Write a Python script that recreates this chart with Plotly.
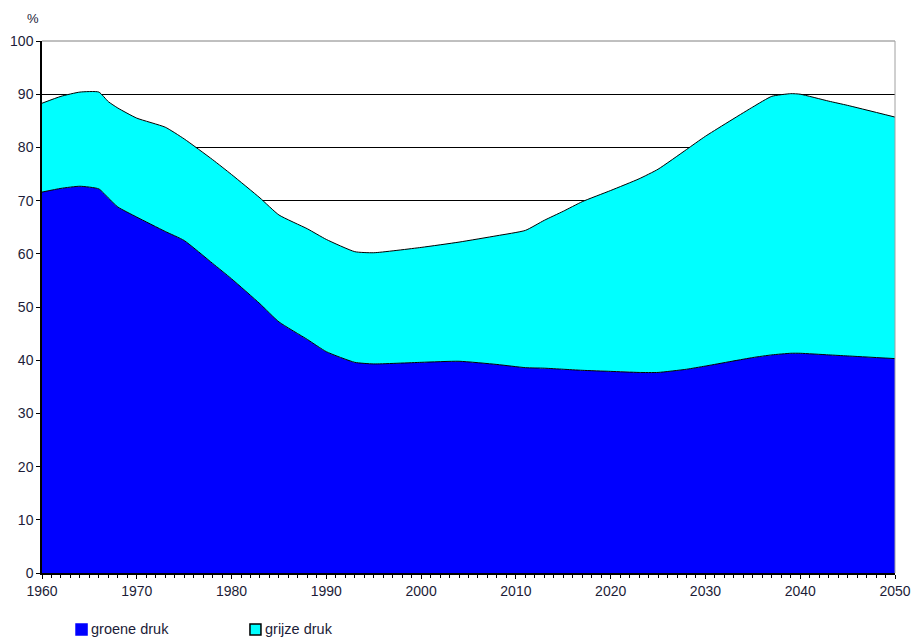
import plotly.graph_objects as go

years = [1960, 1962, 1964, 1966, 1967, 1968, 1970, 1973, 1975, 1978, 1980, 1983, 1985, 1988,
         1990, 1993, 1995, 2000, 2004, 2008, 2011, 2013, 2015, 2017, 2020, 2023, 2025, 2028,
         2030, 2035, 2037, 2039, 2040, 2043, 2045, 2050]
groene_druk = [71.6, 72.3, 72.7, 72.2, 70.5, 68.8, 66.9, 64.2, 62.5, 58.2, 55.3, 50.6, 47.2, 43.9,
               41.6, 39.6, 39.3, 39.6, 39.8, 39.2, 38.6, 38.5, 38.3, 38.1, 37.9, 37.7, 37.7, 38.3,
               38.9, 40.5, 41.0, 41.3, 41.3, 41.0, 40.8, 40.3]
totale_druk = [88.3, 89.6, 90.4, 90.4, 88.6, 87.4, 85.5, 83.8, 81.6, 77.7, 74.9, 70.5, 67.3, 64.7,
               62.7, 60.4, 60.2, 61.2, 62.2, 63.4, 64.4, 66.3, 68.0, 69.8, 71.9, 74.1, 75.9, 79.6,
               82.1, 87.6, 89.6, 90.1, 90.0, 88.7, 87.9, 85.7]
grijze_druk = [round(t - g, 2) for t, g in zip(totale_druk, groene_druk)]

series_names = ["groene druk", "grijze druk"]
series_colors = ["#0000ff", "#00ffff"]

y_ticks = list(range(0, 101, 10))
x_ticks = list(range(1960, 2051, 10))

font_family = "Liberation Sans, Arial, sans-serif"
text_color = "#1c1c38"

fig = go.Figure()
for vals, name, col in zip([groene_druk, grijze_druk], series_names, series_colors):
    fig.add_trace(go.Scatter(
        x=years, y=vals, name=name, stackgroup="one", showlegend=False,
        mode="lines", line=dict(color="black", width=1, shape="spline", smoothing=0.5),
        fillcolor=col,
    ))

# legend drawn as squares + text below the plot
legend_x = [0.0399, 0.2438]
shapes = [
    dict(type="line", xref="paper", yref="paper", x0=0, x1=1, y0=1, y1=1,
         line=dict(color="#808080", width=1)),
    dict(type="line", xref="paper", yref="paper", x0=1, x1=1, y0=0, y1=1,
         line=dict(color="#a0a0a0", width=1)),
]
annotations = [
    dict(text="%", xref="paper", yref="paper", x=-0.0106, y=1.043, showarrow=False,
         xanchor="center", yanchor="middle", font=dict(size=13, color=text_color)),
]
for lx, name, col in zip(legend_x, series_names, series_colors):
    shapes.append(dict(type="rect", xref="paper", yref="paper",
                       x0=lx, x1=lx + 0.0129, y0=-0.0959, y1=-0.1165,
                       fillcolor=col,
                       line=dict(color="black" if col == "#00ffff" else col, width=1.5)))
    annotations.append(dict(text=name, xref="paper", yref="paper", x=lx + 0.0152, y=-0.1062,
                            showarrow=False, xanchor="left", yanchor="middle",
                            font=dict(size=14.5, color=text_color)))

fig.update_layout(
    width=913, height=644,
    margin=dict(l=42, r=18, t=41, b=71, autoexpand=False),
    plot_bgcolor="white", paper_bgcolor="white",
    font=dict(family=font_family, size=14, color=text_color),
    showlegend=False,
    hovermode=False,
    xaxis=dict(range=[1960, 2050], tickvals=x_ticks, showgrid=False, zeroline=False,
               showline=True, linecolor="black", linewidth=1.5,
               ticks="outside", ticklen=4, tickcolor="black",
               minor=dict(dtick=1, tick0=1960, ticks="outside", ticklen=3, tickcolor="black"),
               tickfont=dict(size=14, color=text_color)),
    yaxis=dict(range=[0, 100], tickvals=y_ticks, showgrid=True, gridcolor="black", gridwidth=1,
               zeroline=False, showline=True, linecolor="black", linewidth=1.5,
               ticks="outside", ticklen=4, tickcolor="black",
               tickfont=dict(size=14, color=text_color)),
    shapes=shapes,
    annotations=annotations,
)

fig.write_html(
    "out.html",
    config={"displayModeBar": False},
    post_script="document.body.style.margin='0';document.body.style.overflow='hidden';",
)
